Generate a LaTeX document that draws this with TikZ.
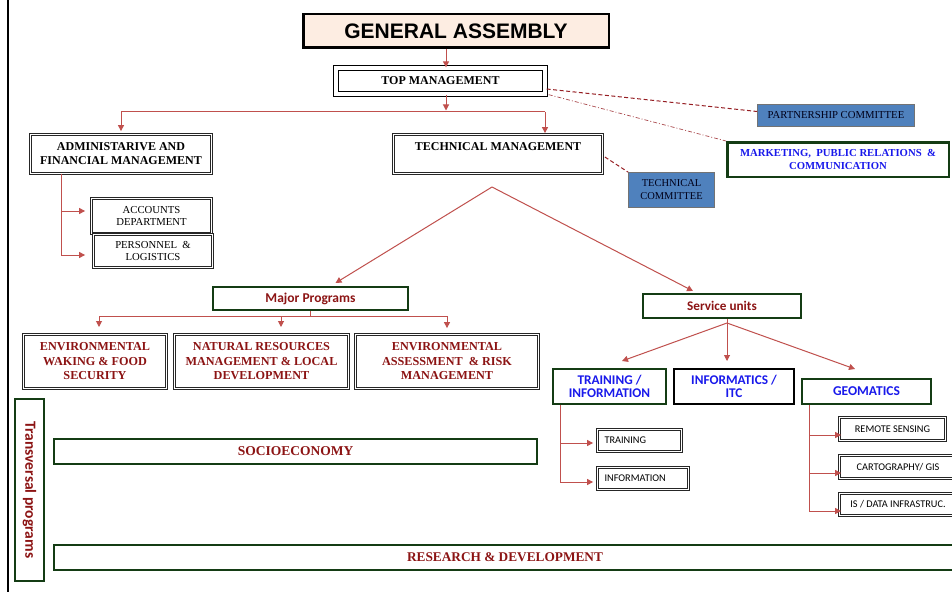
\documentclass[tikz,border=0pt]{standalone}
\usepackage{fontspec}
\setmainfont{Liberation Serif}
\newfontfamily\arialf{Liberation Sans}
\newfontfamily\calib{Carlito}
\usetikzlibrary{arrows.meta}
\definecolor{connred}{RGB}{192,80,77}
\definecolor{dashred}{RGB}{150,30,35}
\definecolor{progred}{RGB}{140,20,20}
\definecolor{dkgreen}{RGB}{20,60,20}
\definecolor{boxblue}{RGB}{79,129,189}
\definecolor{txtblue}{RGB}{25,25,235}
\definecolor{peach}{RGB}{253,237,226}
\newcommand\fs[2]{\fontsize{#1}{#2}\selectfont}
\begin{document}
\begin{tikzpicture}[x=1pt,y=-1pt,
  conn/.style={draw=connred, line width=1pt, -{Triangle[length=6pt,width=6pt]}},
  cline/.style={draw=connred, line width=1pt},
  dashlink/.style={draw=dashred, line width=1pt, dash pattern=on 4pt off 2.5pt},
  dotlink/.style={draw=dashred!80, line width=0.7pt, dash pattern=on 4pt off 2pt on 1pt off 2pt},
  dbl/.style={draw=black!85, line width=0.8pt, double=white, double distance=1.4pt, fill=white, inner sep=0pt, align=center},
  grn/.style={draw=dkgreen, line width=2pt, fill=white, inner sep=0pt, align=center},
  bluebox/.style={draw=black!55, line width=0.8pt, fill=boxblue, inner sep=0pt, align=center, text=black!90!blue},
  serb/.style={font=\bfseries\fs{12}{14}},
  serr/.style={font=\fs{10.7}{12.5}},
  progt/.style={text=progred, font=\bfseries\fs{12.2}{14.5}},
  calb/.style={font=\calib\bfseries\fs{#1}{13}},
  calr/.style={font=\calib\fs{10.3}{11}},
]
\clip (0,0) rectangle (952,591);
\fill[white] (0,0) rectangle (952,591);
% left frame line
\draw[line width=1.8pt] (8,-5) -- (8,600);

% ---- top ----
\node[draw=black, line width=2.5pt, fill=peach, minimum width=305.5pt, minimum height=33.5pt, inner sep=0pt,
  font=\arialf\bfseries\fs{21}{24}] (GA) at (456,31) {GENERAL ASSEMBLY};
\node[draw=black, line width=1.3pt, double=white, double distance=3.4pt, fill=white, minimum width=209pt, minimum height=26pt, inner sep=0pt, serb]
  (TM) at (440.5,81) {TOP MANAGEMENT};
\node[dbl, serb, minimum width=181pt, minimum height=39pt] (ADM) at (121,154)
  {ADMINISTARIVE AND\\FINANCIAL MANAGEMENT};
\node[dbl, serb, minimum width=209pt, minimum height=39pt] (TECH) at (498,154)
  {TECHNICAL MANAGEMENT\\\mbox{}};

\node[bluebox, serr, minimum width=157pt, minimum height=22pt] (PART) at (836,115.5)
  {PARTNERSHIP COMMITTEE};
\node[draw=dkgreen, line width=2.5pt, fill=white, inner sep=0pt, align=center, minimum width=221.5pt, minimum height=34.5pt,
  text=txtblue, font=\bfseries\fs{10.7}{13}]
  (MKT) at (838,159.5) {MARKETING,\ \ PUBLIC RELATIONS\ \ \&\\COMMUNICATION};
\node[bluebox, font=\fs{10.5}{13}, minimum width=86pt, minimum height=35pt] (TCOM) at (671.5,190)
  {TECHNICAL\\COMMITTEE};

\node[dbl, serr, minimum width=120pt, minimum height=35pt] (ACC) at (151.5,216)
  {ACCOUNTS\\DEPARTMENT};
\node[dbl, serr, minimum width=119pt, minimum height=33pt] (PERS) at (153,251)
  {PERSONNEL\ \ \&\\LOGISTICS};

% ---- programs ----
\node[grn, calb=13.5, text=progred, minimum width=195pt, minimum height=23pt] (MP) at (310.5,298.5)
  {Major Programs};
\node[dbl, progt, minimum width=143pt, minimum height=54pt] (P1) at (95,361.5)
  {ENVIRONMENTAL\\WAKING \& FOOD\\SECURITY};
\node[dbl, progt, minimum width=174pt, minimum height=54pt] (P2) at (261.5,361.5)
  {NATURAL RESOURCES\\MANAGEMENT \& LOCAL\\DEVELOPMENT};
\node[dbl, progt, minimum width=183pt, minimum height=54pt] (P3) at (447,361.5)
  {ENVIRONMENTAL\\ASSESSMENT\ \ \& RISK\\MANAGEMENT};

% ---- service units ----
\node[grn, calb=13.2, text=progred, minimum width=158pt, minimum height=24pt] (SU) at (722,306)
  {Service units};
\node[grn, calb=13.3, text=txtblue, minimum width=113pt, minimum height=35pt] (TI) at (609.5,386.5)
  {TRAINING /\\INFORMATION};
\node[draw=black, line width=2pt, fill=white, inner sep=0pt, align=center, minimum width=120pt, minimum height=35pt,
  calb=13.3, text=txtblue] (ITC) at (734,386.5)
  {INFORMATICS /\\ITC};
\node[grn, calb=13.5, text=txtblue, minimum width=129pt, minimum height=25pt] (GEO) at (866.5,391.5)
  {GEOMATICS};

\node[dbl, calr, minimum width=84pt, minimum height=22pt, text width=70pt, align=left] (TRN) at (639.5,440.5)
  {TRAINING};
\node[dbl, calr, minimum width=91pt, minimum height=22pt, text width=77pt, align=left] (INFO) at (643,478.5)
  {INFORMATION};
\node[dbl, calr, minimum width=106pt, minimum height=23pt] (RS) at (892.5,429)
  {REMOTE SENSING};
\node[dbl, calr, minimum width=117pt, minimum height=23pt] (CG) at (898,467)
  {CARTOGRAPHY/ GIS};
\node[dbl, calr, minimum width=117pt, minimum height=22pt] (SDI) at (898,504.5)
  {IS / DATA INFRASTRUC.};

% ---- transversal ----
\node[grn, rotate=-90, minimum width=182pt, minimum height=29pt, text=progred, font=\calib\bfseries\fs{15.5}{17}] (TRV) at (29.5,490)
  {Transversal programs};
\node[grn, minimum width=483pt, minimum height=25pt, text=progred, font=\bfseries\fs{13.5}{15}] (SOC) at (295.5,451.5)
  {SOCIOECONOMY};
\node[grn, minimum width=902pt, minimum height=25pt] (RD) at (505,557.5) {};
\node[inner sep=0pt, text=progred, font=\bfseries\fs{13.3}{15}] (RDT) at (505,557.5)
  {RESEARCH \& DEVELOPMENT};

% ---- connectors ----
\coordinate (gax) at (446,0);
\draw[conn] (gax |- GA.south) -- (gax |- TM.north);
\coordinate (hub1) at (446,112);
\draw[conn] (gax |- TM.south) -- ([yshift=1.5pt]hub1);
\draw[cline] (121,112) -- (545,112);
\draw[conn] (121,112) -- ([yshift=3pt]ADM.north);
\coordinate (tx) at (545,112);
\draw[conn] (tx) -- ([yshift=1pt]tx |- TECH.north);

% admin subs
\coordinate (av) at (61,0);
\draw[cline] (av |- ADM.south) -- (61,255);
\draw[conn] (61,211) -- ([xshift=-6pt,yshift=5pt]ACC.west);
\draw[conn] (61,255) -- ([xshift=-8pt,yshift=-4pt]PERS.west);

% dashed links
\draw[dashlink] ([xshift=1pt,yshift=-8pt]TM.east) -- ([yshift=4pt]PART.west);
\draw[dotlink] ([xshift=3pt]TM.south east) -- (MKT.north west);
\draw[dashlink] ([xshift=2pt,yshift=-3pt]TECH.east) -- (TCOM.north west);

% V from technical management
\coordinate (apex) at (492,187);
\draw[conn] (apex) -- ([xshift=25pt,yshift=3pt]MP.north);
\draw[conn] (apex) -- ([xshift=-29pt,yshift=2pt]SU.north);

% major programs split
\draw[cline] (MP.south) -- (310.5,316);
\draw[cline] (99,316) -- (447,316);
\draw[conn] (99,316) -- (99,327);
\draw[conn] (281,316) -- (281,327);
\draw[conn] (447,316) -- ([yshift=6pt]P3.north);

% service units split
\coordinate (suh) at (727,323);
\draw[cline] ([xshift=5pt]SU.south) -- (suh);
\draw[conn] (suh) -- ([xshift=12.5pt,yshift=7pt]TI.north);
\draw[conn] (suh) -- ([yshift=7pt]suh |- ITC.north);
\draw[conn] (suh) -- ([xshift=-11.5pt,yshift=9pt]GEO.north);

% training subs
\draw[cline] (560,405) -- (560,482);
\draw[conn] (560,443) -- ([xshift=-4pt,yshift=-2.5pt]TRN.west);
\draw[conn] (560,482) -- ([xshift=-4pt,yshift=-3.5pt]INFO.west);

% geomatics subs
\draw[cline] (809,405) -- (809,511);
\draw[conn] (809,435) -- ([xshift=2pt,yshift=-6pt]RS.west);
\draw[conn] (809,473) -- ([xshift=2pt,yshift=-6pt]CG.west);
\draw[conn] (809,511) -- ([xshift=2pt,yshift=-6.5pt]SDI.west);
\end{tikzpicture}
\end{document}
